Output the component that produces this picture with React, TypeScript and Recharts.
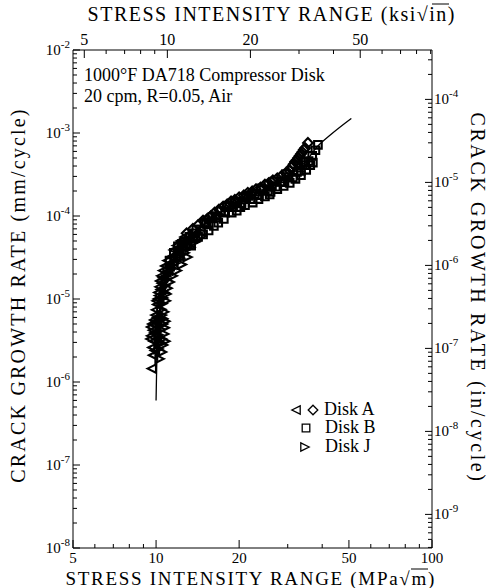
import React from 'react'
import { ComposedChart, Scatter, Line, XAxis, YAxis } from 'recharts'

const W = 494
const H = 588
const FONT = '"Liberation Serif", "Times New Roman", serif'

// stress intensity range (MPa√m), crack growth rate (mm/cycle)
const diskALeft: [number, number][] = [
  [9.65, 1.45e-6], [9.75, 2.1e-6], [9.7, 2.6e-6], [9.8, 3.1e-6], [9.6, 3.6e-6],
  [9.75, 4.2e-6], [9.7, 5.0e-6], [9.85, 5.6e-6], [9.95, 6.4e-6], [10.0, 7.4e-6],
  [10.1, 8.6e-6], [10.15, 1.0e-5], [10.2, 1.2e-5], [10.3, 1.4e-5], [10.35, 1.65e-5],
  [10.45, 1.9e-5], [10.6, 2.2e-5], [10.8, 2.5e-5], [11.0, 2.9e-5], [11.3, 3.2e-5],
  [11.6, 3.9e-5], [11.9, 4.4e-5], [12.3, 5.0e-5], [12.7, 5.6e-5],
  [9.55, 3.3e-6], [9.9, 2.4e-6], [9.85, 3.9e-6], [9.6, 4.6e-6], [9.9, 4.9e-6],
  [10.0, 5.4e-6], [10.1, 6.0e-6], [10.05, 9.5e-6], [10.25, 1.1e-5], [10.4, 1.3e-5],
  [10.5, 1.55e-5], [10.6, 1.8e-5], [10.9, 2.1e-5], [11.2, 2.5e-5], [11.5, 2.8e-5],
  [11.8, 3.3e-5], [12.1, 3.8e-5],
]

const diskADiamond: [number, number][] = [
  [14.2, 7.8e-5], [15.3, 9.2e-5], [16.3, 1.1e-4], [17.5, 1.3e-4], [18.7, 1.5e-4],
  [20.0, 1.68e-4], [21.5, 1.9e-4], [23.0, 2.1e-4], [24.8, 2.4e-4], [26.5, 2.7e-4],
  [28.5, 3.05e-4], [30.5, 3.5e-4], [31.5, 4.2e-4], [32.3, 4.7e-4], [33.1, 5.3e-4],
  [33.9, 5.9e-4], [34.7, 6.6e-4], [35.5, 7.6e-4],
  [14.8, 8.8e-5], [15.8, 1.0e-4], [16.9, 1.2e-4], [18.1, 1.38e-4], [19.3, 1.57e-4],
  [20.8, 1.78e-4], [22.3, 1.98e-4], [23.9, 2.2e-4], [25.6, 2.5e-4], [27.5, 2.85e-4],
  [29.5, 3.3e-4], [31.0, 3.9e-4], [31.9, 4.5e-4], [32.7, 5.0e-4], [33.5, 5.6e-4],
  [34.3, 6.3e-4],
  [12.9, 6.2e-5], [13.6, 7.0e-5], [13.3, 5.9e-5],
]

const diskB: [number, number][] = [
  [11.2, 2.9e-5], [11.6, 3.6e-5], [12.0, 3.5e-5], [12.4, 4.6e-5], [12.8, 4.4e-5],
  [13.2, 5.6e-5], [13.6, 5.3e-5], [14.0, 6.9e-5], [14.5, 6.6e-5], [15.0, 8.2e-5],
  [15.5, 7.9e-5], [16.0, 9.8e-5], [16.6, 9.6e-5], [17.2, 1.14e-4], [17.8, 1.1e-4],
  [18.4, 1.33e-4], [19.0, 1.28e-4], [19.7, 1.5e-4], [20.4, 1.42e-4], [21.2, 1.66e-4],
  [22.0, 1.6e-4], [22.8, 1.85e-4], [23.6, 1.78e-4], [24.5, 2.05e-4], [25.4, 2.0e-4],
  [26.3, 2.3e-4], [27.2, 2.25e-4], [28.2, 2.6e-4], [29.2, 2.55e-4], [30.2, 2.95e-4],
  [31.3, 2.9e-4], [32.4, 3.4e-4], [33.5, 3.5e-4], [34.6, 4.1e-4], [35.7, 4.6e-4],
  [36.8, 5.3e-4], [37.8, 6.2e-4], [38.6, 7.2e-4],
  [13.0, 4.6e-5], [14.8, 6.0e-5], [16.8, 8.3e-5], [18.8, 1.1e-4], [21.0, 1.35e-4],
  [23.5, 1.6e-4], [26.0, 1.95e-4], [29.0, 2.3e-4], [32.0, 2.8e-4], [35.0, 3.6e-4],
  [37.0, 4.4e-4],
  [12.2, 3.3e-5], [13.4, 4.4e-5], [15.5, 6.7e-5], [17.6, 9.2e-5], [19.6, 1.16e-4],
  [22.4, 1.45e-4], [24.8, 1.72e-4], [27.5, 2.1e-4], [30.5, 2.5e-4], [33.5, 3.1e-4],
  [36.2, 4.1e-4],
  [12.6, 4.8e-5], [13.8, 6.2e-5], [15.2, 8.3e-5], [16.4, 1.0e-4], [18.0, 1.28e-4],
  [19.4, 1.45e-4], [21.6, 1.75e-4], [24.0, 2.15e-4], [26.8, 2.6e-4], [29.6, 3.2e-4],
  [32.8, 4.1e-4], [34.2, 4.4e-4],
  [12.0, 4.3e-5], [14.2, 5.6e-5], [16.2, 7.6e-5], [20.2, 1.28e-4], [25.8, 1.82e-4],
]

const diskJ: [number, number][] = [
  [10.3, 1.9e-6], [10.5, 2.3e-6], [10.6, 2.8e-6], [10.5, 3.3e-6], [10.7, 3.8e-6],
  [10.4, 4.3e-6], [10.6, 5.0e-6], [10.3, 5.6e-6], [10.5, 6.4e-6], [10.45, 7.5e-6],
  [10.55, 8.8e-6], [10.6, 1.03e-5], [10.7, 1.2e-5], [10.75, 1.45e-5], [10.85, 1.7e-5],
  [11.0, 2.0e-5], [11.3, 2.3e-5], [11.7, 2.7e-5], [12.2, 3.1e-5], [12.7, 3.6e-5],
  [13.3, 4.2e-5], [13.9, 4.9e-5], [14.6, 5.7e-5],
  [10.2, 2.5e-6], [10.35, 3.0e-6], [10.8, 3.1e-6], [10.2, 3.7e-6], [10.75, 4.5e-6],
  [10.8, 5.4e-6], [10.6, 5.8e-6], [10.7, 7.0e-6], [10.85, 9.5e-6], [10.9, 1.15e-5],
  [11.0, 1.35e-5], [11.2, 1.6e-5], [11.5, 1.9e-5], [11.9, 2.2e-5], [12.4, 2.6e-5],
  [13.0, 3.2e-5],
]

// fitted curve
const fitCurve: [number, number][] = [
  [10.0, 6.0e-7], [10.05, 1.5e-6], [10.12, 3e-6], [10.25, 6e-6], [10.45, 1.1e-5],
  [10.8, 1.8e-5], [11.4, 2.7e-5], [12.3, 3.9e-5], [13.5, 5.4e-5], [15.5, 8e-5],
  [18, 1.15e-4], [21, 1.55e-4], [25, 2.1e-4], [30, 2.95e-4], [35, 4.6e-4],
  [38, 6.6e-4], [43, 9.6e-4], [51, 1.5e-3],
]

// axis ticks
const mpaTicks = [5, 6, 7, 8, 9, 10, 20, 30, 40, 50, 60, 70, 80, 90, 100]
const mpaLabels = [5, 10, 20, 50, 100]
const ksiTicks = [5, 6, 7, 8, 9, 10, 20, 30, 40, 50, 60, 70, 80, 90]
const ksiLabels = [5, 10, 20, 50]
const mmDecades = [-8, -7, -6, -5, -4, -3]
const inDecades = [-10, -9, -8, -7, -6, -5, -4]
const mantissas = [1, 2, 3, 4, 5, 6, 7, 8, 9]

const KSI = 1.0988 // MPa√m per ksi√in
const MM_PER_IN = 25.4

const mmDomain = [1e-8, 1e-2]
const inDomain = [1e-8 / MM_PER_IN, 1e-2 / MM_PER_IN]

const mmTicks = [...mmDecades.flatMap(d => mantissas.map(m => m * 10 ** d)), 1e-2]
const inTicks = inDecades
  .flatMap(d => mantissas.map(m => m * 10 ** d))
  .filter(v => v >= inDomain[0] && v <= inDomain[1])

const toPts = (arr: [number, number][]) => arr.map(([k, rate]) => ({ k, rate }))
// same curve in ksi√in and in/cycle, only to tie the top and right axes to a series
const fitImperial = fitCurve.map(([k, rate]) => ({ k: k / KSI, rate: rate / MM_PER_IN }))

const isDecade = (v: number) => Math.abs(Math.log10(v) - Math.round(Math.log10(v))) < 1e-6

const BottomTick = (props: any) => {
  const { x, y, payload } = props
  const major = mpaLabels.includes(payload.value)
  return (
    <g>
      <line x1={x} x2={x} y1={y} y2={y - (major ? 8 : 4)} stroke="#000" />
      {major && (
        <text x={x} y={y + 15} textAnchor="middle" fontFamily={FONT} fontSize={15} fill="#000">
          {payload.value}
        </text>
      )}
    </g>
  )
}

const TopTick = (props: any) => {
  const { x, y, payload } = props
  const major = ksiLabels.includes(payload.value)
  return (
    <g>
      <line x1={x} x2={x} y1={y} y2={y + (major ? 8 : 4)} stroke="#000" />
      {major && (
        <text x={x} y={y - 5} textAnchor="middle" fontFamily={FONT} fontSize={16} fill="#000">
          {payload.value}
        </text>
      )}
    </g>
  )
}

const LeftTick = (props: any) => {
  const { x, y, payload } = props
  const major = isDecade(payload.value)
  const exp = Math.round(Math.log10(payload.value))
  return (
    <g>
      <line x1={x} x2={x + (major ? 7 : 4)} y1={y} y2={y} stroke="#000" />
      {major && (
        <text x={x - 3} y={y + 5} textAnchor="end" fontFamily={FONT} fontSize={15} fill="#000">
          10<tspan dy={-7} fontSize={11}>{exp}</tspan>
        </text>
      )}
    </g>
  )
}

const RightTick = (props: any) => {
  const { x, y, payload } = props
  const major = isDecade(payload.value)
  const exp = Math.round(Math.log10(payload.value))
  return (
    <g>
      <line x1={x} x2={x - (major ? 7 : 4)} y1={y} y2={y} stroke="#000" />
      {major && (
        <text x={x + 2} y={y + 5} textAnchor="start" fontFamily={FONT} fontSize={15} fill="#000">
          10<tspan dy={-7} fontSize={11}>{exp}</tspan>
        </text>
      )}
    </g>
  )
}

const triLeft = (cx: number, cy: number, s = 4.2) =>
  `M${cx - s},${cy} L${cx + s},${cy - s} L${cx + s},${cy + s} Z`
const triRight = (cx: number, cy: number, s = 4.2) =>
  `M${cx + s},${cy} L${cx - s},${cy - s} L${cx - s},${cy + s} Z`
const diamond = (cx: number, cy: number, s = 4.8) =>
  `M${cx},${cy - s} L${cx + s},${cy} L${cx},${cy + s} L${cx - s},${cy} Z`
const square = (cx: number, cy: number, s = 3.8) =>
  `M${cx - s},${cy - s} H${cx + s} V${cy + s} H${cx - s} Z`

const marker = (fn: (cx: number, cy: number) => string) => (props: any) => (
  <path d={fn(props.cx, props.cy)} fill="none" stroke="#000" strokeWidth={2.1} />
)

const legendMark = (d: string) => <path d={d} fill="none" stroke="#000" strokeWidth={1.3} />

export default function App() {
  return (
    <div style={{ position: 'absolute', left: 0, top: 0, width: W, height: H, background: '#fff' }}>
      <ComposedChart
        width={W}
        height={H}
        margin={{ top: 20, right: 20, bottom: 20, left: 30 }}
      >
        <XAxis
          xAxisId="mpa"
          dataKey="k"
          type="number"
          scale="log"
          domain={[5, 100]}
          ticks={mpaTicks}
          interval={0}
          orientation="bottom"
          height={20}
          tickSize={0}
          tickMargin={0}
          tickLine={false}
          axisLine={{ stroke: '#000' }}
          tick={BottomTick}
          allowDataOverflow
        />
        <XAxis
          xAxisId="ksi"
          dataKey="k"
          type="number"
          scale="log"
          domain={[5 / KSI, 100 / KSI]}
          ticks={ksiTicks}
          interval={0}
          orientation="top"
          height={30}
          tickSize={0}
          tickMargin={0}
          tickLine={false}
          axisLine={{ stroke: '#000' }}
          tick={TopTick}
          allowDataOverflow
        />
        <YAxis
          yAxisId="mm"
          type="number"
          scale="log"
          domain={mmDomain}
          ticks={mmTicks}
          interval={0}
          orientation="left"
          width={43}
          tickSize={0}
          tickMargin={0}
          tickLine={false}
          axisLine={{ stroke: '#000' }}
          tick={LeftTick}
          allowDataOverflow
        />
        <YAxis
          yAxisId="in"
          type="number"
          scale="log"
          domain={inDomain}
          ticks={inTicks}
          interval={0}
          orientation="right"
          width={42}
          tickSize={0}
          tickMargin={0}
          tickLine={false}
          axisLine={{ stroke: '#000' }}
          tick={RightTick}
          allowDataOverflow
        />
        <Scatter xAxisId="mpa" yAxisId="mm" data={toPts(diskALeft)} dataKey="rate" shape={marker(triLeft)} isAnimationActive={false} />
        <Scatter xAxisId="mpa" yAxisId="mm" data={toPts(diskJ)} dataKey="rate" shape={marker(triRight)} isAnimationActive={false} />
        <Scatter xAxisId="mpa" yAxisId="mm" data={toPts(diskB)} dataKey="rate" shape={marker(square)} isAnimationActive={false} />
        <Scatter xAxisId="mpa" yAxisId="mm" data={toPts(diskADiamond)} dataKey="rate" shape={marker(diamond)} isAnimationActive={false} />
        <Line
          xAxisId="mpa"
          yAxisId="mm"
          data={toPts(fitCurve)}
          dataKey="rate"
          type="monotone"
          stroke="#000"
          strokeWidth={1.3}
          dot={false}
          isAnimationActive={false}
        />
        <Line
          xAxisId="ksi"
          yAxisId="in"
          data={fitImperial}
          dataKey="rate"
          type="monotone"
          stroke="none"
          dot={false}
          isAnimationActive={false}
        />
      </ComposedChart>

      <svg
        width={W}
        height={H}
        style={{ position: 'absolute', left: 0, top: 0, pointerEvents: 'none' }}
        fontFamily={FONT}
        fill="#000"
      >
        {/* axis titles; radical bars drawn as lines */}
        <text x={456} y={21} textAnchor="end" fontSize={20} letterSpacing={1.5}>
          STRESS INTENSITY RANGE (ksi√in)
        </text>
        <line x1={432} x2={449} y1={4} y2={4} stroke="#000" strokeWidth={1} />
        <text x={436} y={585} textAnchor="end" fontSize={19} letterSpacing={1.7}>
          STRESS INTENSITY RANGE (MPa√m)
        </text>
        <line x1={411} x2={428} y1={569} y2={569} stroke="#000" strokeWidth={1} />
        <text transform="translate(25,295) rotate(-90)" textAnchor="middle" fontSize={20} letterSpacing={2.2}>
          CRACK GROWTH RATE (mm/cycle)
        </text>
        <text transform="translate(471,298) rotate(90)" textAnchor="middle" fontSize={20} letterSpacing={2.6}>
          CRACK GROWTH RATE (in/cycle)
        </text>

        <text x={84} y={81} fontSize={18}>1000°F  DA718 Compressor Disk</text>
        <text x={84} y={102} fontSize={18}>20 cpm, R=0.05, Air</text>

        {legendMark(triLeft(296, 410))}
        {legendMark(diamond(313, 410))}
        <text x={324} y={415} fontSize={18}>Disk  A</text>
        {legendMark(square(306, 428))}
        <text x={325} y={433} fontSize={18}>Disk  B</text>
        {legendMark(triRight(305, 447))}
        <text x={325} y={452} fontSize={18}>Disk  J</text>
      </svg>
    </div>
  )
}
